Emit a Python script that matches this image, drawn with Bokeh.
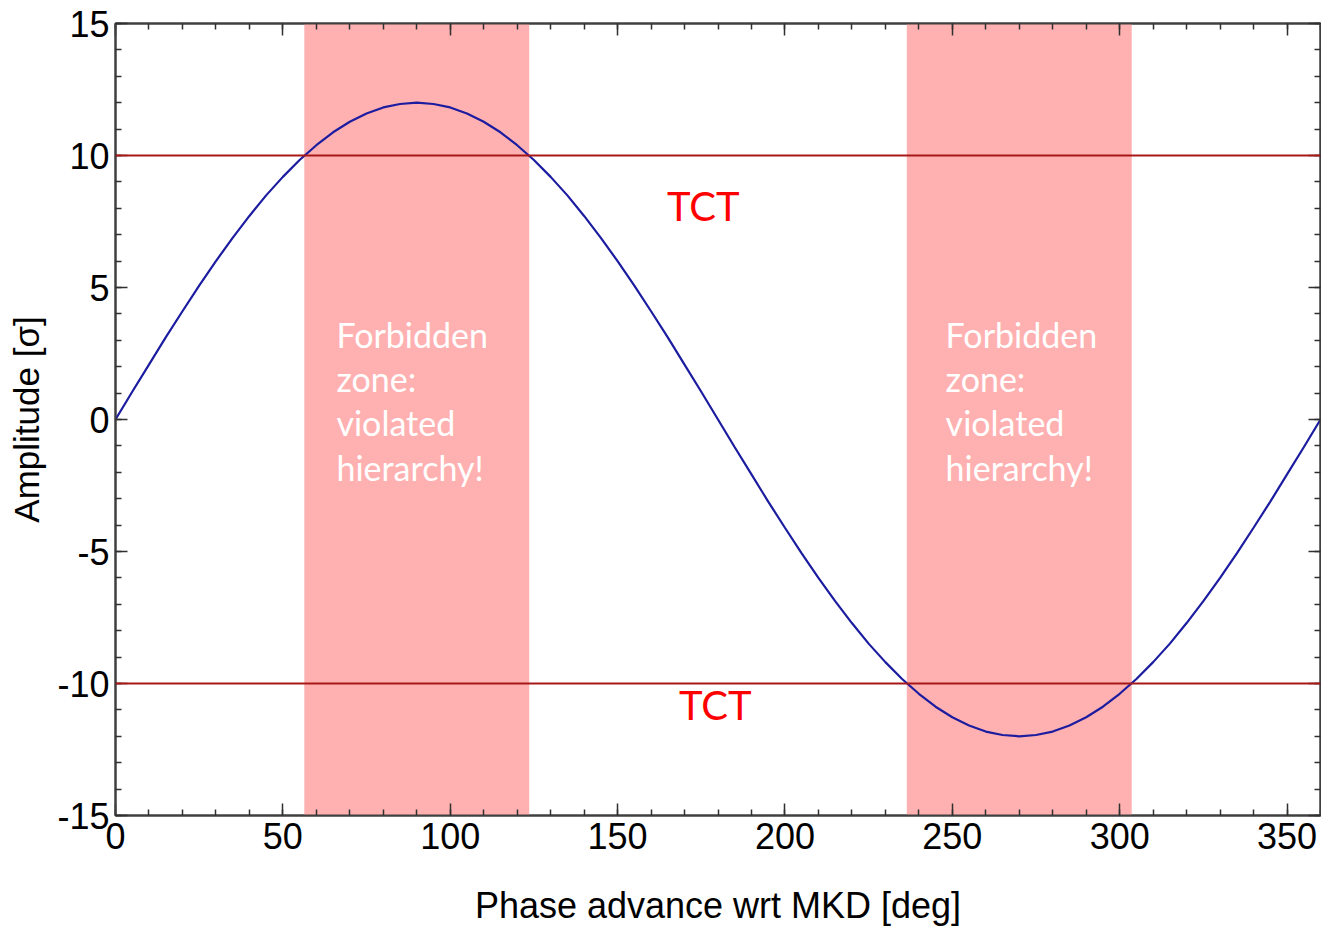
from bokeh.plotting import figure
from bokeh.models import Range1d, LinearAxis, SingleIntervalTicker, Span, CustomJSTickFormatter
from bokeh.core.properties import value
from bokeh.embed import file_html
from bokeh.resources import INLINE

# ---- data ----
phase_deg = [0, 5, 10, 15, 20, 25, 30, 35, 40, 45, 50, 55, 60, 65, 70, 75, 80, 85, 90,
             95, 100, 105, 110, 115, 120, 125, 130, 135, 140, 145, 150, 155, 160, 165, 170, 175, 180,
             185, 190, 195, 200, 205, 210, 215, 220, 225, 230, 235, 240, 245, 250, 255, 260, 265, 270,
             275, 280, 285, 290, 295, 300, 305, 310, 315, 320, 325, 330, 335, 340, 345, 350, 355, 360]
amplitude = [0.0, 1.05, 2.08, 3.11, 4.10, 5.07, 6.00, 6.88, 7.71, 8.49, 9.19, 9.83, 10.39, 10.88, 11.28, 11.59, 11.82, 11.95, 12.0,
             11.95, 11.82, 11.59, 11.28, 10.88, 10.39, 9.83, 9.19, 8.49, 7.71, 6.88, 6.00, 5.07, 4.10, 3.11, 2.08, 1.05, 0.0,
             -1.05, -2.08, -3.11, -4.10, -5.07, -6.00, -6.88, -7.71, -8.49, -9.19, -9.83, -10.39, -10.88, -11.28, -11.59, -11.82, -11.95, -12.0,
             -11.95, -11.82, -11.59, -11.28, -10.88, -10.39, -9.83, -9.19, -8.49, -7.71, -6.88, -6.00, -5.07, -4.10, -3.11, -2.08, -1.05, 0.0]
zone_start = [56.4, 236.4]
zone_end = [123.6, 303.6]
tct_levels = [10, -10]
tct_label_x = [175.6, 179.2]
tct_label_y = [8.1, -10.8]
tct_labels = ["TCT", "TCT"]
zone_label_x = [66, 248]
zone_label_y = [4.0, 4.0]
zone_labels = ["Forbidden\nzone:\nviolated\nhierarchy!", "Forbidden\nzone:\nviolated\nhierarchy!"]

p = figure(width=1321, height=928, output_backend="svg", toolbar_location=None,
           x_range=Range1d(0, 360), y_range=Range1d(-15, 15),
           min_border_left=115, min_border_right=1, min_border_top=23, min_border_bottom=111,
           x_axis_label="Phase advance wrt MKD [deg]", y_axis_label="Amplitude [σ]")
p.grid.visible = False
p.outline_line_color = "#404040"
p.outline_line_width = 2
p.background_fill_color = "white"
p.border_fill_color = "white"

p.quad(left=zone_start, right=zone_end, bottom=-15, top=15, fill_color="#FFB1B1", line_color=None)

for lvl in tct_levels:
    p.add_layout(Span(location=lvl, dimension="width", line_color="#A81818", line_width=2.2))

p.line(phase_deg, amplitude, line_color="#1C1CA0", line_width=2.2)

p.text(x=tct_label_x, y=tct_label_y, text=tct_labels, text_color="#FF0000",
       text_font=value("Lato"), text_font_size="40px", text_align="center", text_baseline="middle")
p.text(x=zone_label_x, y=zone_label_y, text=zone_labels, text_color="white",
       text_font=value("Lato"), text_font_size="34px", text_align="left", text_baseline="top",
       text_line_height=1.08)

plain = CustomJSTickFormatter(code="return tick.toString();")
blank = CustomJSTickFormatter(code="return '';")

def style(ax, labels=True):
    ax.axis_line_color = "#404040"
    ax.axis_line_width = 2
    ax.major_tick_in = 12
    ax.major_tick_out = 0
    ax.minor_tick_in = 6
    ax.minor_tick_out = 0
    ax.major_tick_line_color = "#303030"
    ax.minor_tick_line_color = "#303030"
    ax.major_tick_line_width = 1.5
    ax.minor_tick_line_width = 1.5
    if labels:
        ax.formatter = plain
        ax.major_label_text_font = "Liberation Sans"
        ax.major_label_text_font_size = "36px"
        ax.major_label_text_color = "black"
        ax.axis_label_text_font = "Liberation Sans"
        ax.axis_label_text_font_size = "35px"
        ax.axis_label_text_font_style = "normal"
        ax.axis_label_text_color = "black"
    else:
        ax.formatter = blank
        ax.major_label_standoff = 0

p.xaxis.ticker = SingleIntervalTicker(interval=50, num_minor_ticks=5)
p.yaxis.ticker = SingleIntervalTicker(interval=5, num_minor_ticks=5)
style(p.xaxis[0])
style(p.yaxis[0])
p.xaxis.axis_label_text_font_size = "36px"
p.xaxis.major_label_standoff = 7
p.yaxis.major_label_standoff = 6
p.xaxis.axis_label_standoff = 33
p.yaxis.axis_label_standoff = 8

top = LinearAxis(ticker=SingleIntervalTicker(interval=50, num_minor_ticks=5))
right = LinearAxis(ticker=SingleIntervalTicker(interval=5, num_minor_ticks=5))
style(top, labels=False)
style(right, labels=False)
p.add_layout(top, "above")
p.add_layout(right, "right")

open("out.html", "w").write(file_html(p, INLINE))
